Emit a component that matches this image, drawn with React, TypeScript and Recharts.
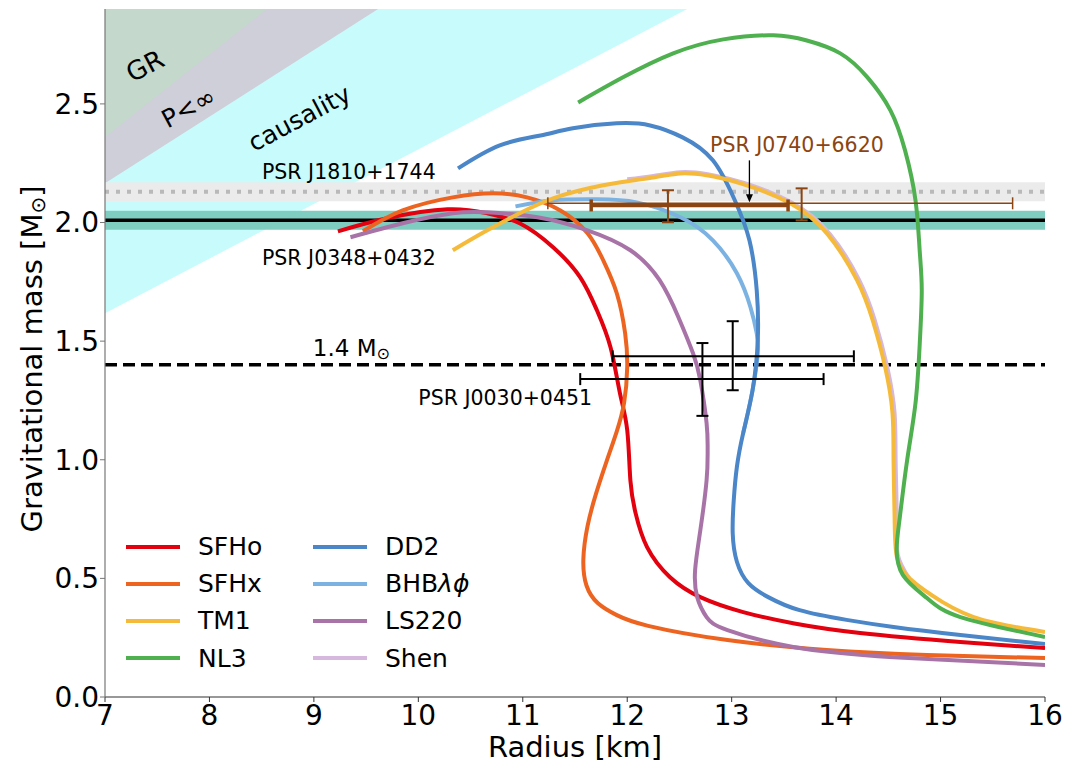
import React from "react";
import {
  ComposedChart,
  Line,
  Area,
  Scatter,
  ErrorBar,
  XAxis,
  YAxis,
  ReferenceDot,
  ReferenceLine,
  Legend,
} from "recharts";

type Pt = [number, number];

const FONT = "'DejaVu Sans', sans-serif";
const R_TICKS = [7, 8, 9, 10, 11, 12, 13, 14, 15, 16];
const M_TICKS = [0, 0.5, 1, 1.5, 2, 2.5];
const R_MIN = 7;
const R_MAX = 16;
const M_MAX = 2.9;

// mass-radius curves, [radius km, mass Msun]
const SFHO: Pt[] = [
  [9.23, 1.963], [9.7, 2.018], [10.28, 2.056], [10.66, 2.039], [10.97, 1.997],
  [11.29, 1.896], [11.55, 1.769], [11.71, 1.63], [11.84, 1.474], [11.93, 1.281],
  [12.0, 1.125], [12.03, 0.914], [12.08, 0.775], [12.19, 0.632], [12.41, 0.505],
  [12.7, 0.421], [13.11, 0.358], [13.6, 0.31], [14.23, 0.27], [15.19, 0.232], [16.0, 0.206],
];
const SFHX: Pt[] = [
  [9.47, 1.963], [9.85, 2.051], [10.33, 2.106], [10.72, 2.123], [11.04, 2.106],
  [11.36, 2.051], [11.62, 1.955], [11.77, 1.841], [11.9, 1.702], [11.98, 1.533],
  [12.0, 1.39], [11.97, 1.24], [11.9, 1.12], [11.8, 0.99], [11.7, 0.855],
  [11.62, 0.72], [11.58, 0.58], [11.61, 0.47], [11.72, 0.395], [11.9, 0.345],
  [12.2, 0.3], [12.96, 0.24], [13.91, 0.198], [14.87, 0.177], [16.0, 0.164],
];
const TM1: Pt[] = [
  [10.33, 1.883], [10.66, 1.967], [10.97, 2.039], [11.29, 2.102], [11.77, 2.157],
  [12.25, 2.19], [12.51, 2.207], [12.76, 2.199], [13.1, 2.163], [13.56, 2.081],
  [13.92, 1.95], [14.2, 1.757], [14.35, 1.588], [14.47, 1.39], [14.54, 1.196],
  [14.55, 0.998], [14.56, 0.758], [14.58, 0.594], [14.71, 0.497], [15.02, 0.4],
  [15.41, 0.324], [16.0, 0.274],
];
const NL3: Pt[] = [
  [11.53, 2.506], [11.96, 2.612], [12.44, 2.713], [12.92, 2.772], [13.4, 2.789],
  [13.72, 2.767], [14.04, 2.713], [14.3, 2.612], [14.52, 2.473], [14.66, 2.304],
  [14.76, 2.094], [14.8, 1.883], [14.82, 1.714], [14.8, 1.483], [14.76, 1.238],
  [14.68, 0.998], [14.61, 0.758], [14.58, 0.628], [14.64, 0.514], [14.87, 0.417],
  [15.19, 0.337], [16.0, 0.253],
];
const DD2: Pt[] = [
  [10.38, 2.228], [10.78, 2.325], [11.17, 2.367], [11.48, 2.397], [11.9, 2.418],
  [12.22, 2.409], [12.53, 2.359], [12.82, 2.262], [13.03, 2.094], [13.17, 1.925],
  [13.24, 1.714], [13.25, 1.504], [13.2, 1.293], [13.11, 1.112], [13.05, 0.97],
  [13.02, 0.83], [13.01, 0.69], [13.05, 0.57], [13.16, 0.48], [13.35, 0.421],
  [13.65, 0.366], [14.1, 0.325], [14.55, 0.295], [15.19, 0.261], [16.0, 0.223],
];
const BHB: Pt[] = [
  [10.93, 2.068], [11.29, 2.094], [11.71, 2.098], [12.09, 2.085], [12.51, 2.022],
  [12.82, 1.925], [13.05, 1.786], [13.18, 1.643], [13.24, 1.533], [13.25, 1.45],
  [13.2, 1.293], [13.11, 1.112],
];
const LS220: Pt[] = [
  [9.35, 1.938], [9.85, 1.997], [10.33, 2.039], [10.66, 2.043], [11.14, 2.022],
  [11.62, 1.967], [12.03, 1.883], [12.31, 1.757], [12.49, 1.601], [12.63, 1.449],
  [12.7, 1.335], [12.76, 1.154], [12.77, 1.04], [12.76, 0.914], [12.7, 0.703],
  [12.65, 0.535], [12.67, 0.421], [12.76, 0.337], [12.96, 0.282], [13.59, 0.211],
  [14.55, 0.168], [16.0, 0.135],
];
const SHEN: Pt[] = [
  [12.0, 2.182], [12.25, 2.196], [12.51, 2.212], [12.77, 2.204], [13.11, 2.168],
  [13.57, 2.085], [13.94, 1.952], [14.22, 1.758], [14.37, 1.589], [14.49, 1.39],
  [14.56, 1.196], [14.57, 0.998], [14.58, 0.758], [14.59, 0.6], [14.7, 0.5],
];

const CURVES: Record<string, Pt[]> = {
  SFHo: SFHO,
  SFHx: SFHX,
  TM1: TM1,
  NL3: NL3,
  DD2: DD2,
  "BHBλϕ": BHB,
  LS220: LS220,
  Shen: SHEN,
};

const COLORS: Record<string, string> = {
  SFHo: "#e3000f",
  SFHx: "#ec6420",
  TM1: "#f6ba3a",
  NL3: "#4fb050",
  DD2: "#4a86c8",
  "BHBλϕ": "#7cb2e2",
  LS220: "#a874a8",
  Shen: "#d6b8de",
};

// drawn back to front
const DRAW_ORDER = ["Shen", "SFHo", "SFHx", "LS220", "BHBλϕ", "DD2", "TM1", "NL3"];
const LEGEND_COLS = [
  ["SFHo", "SFHx", "TM1", "NL3"],
  ["DD2", "BHBλϕ", "LS220", "Shen"],
];

// forbidden regions: lower edge of each (region lies above it)
const CAUSAL_EDGE: Pt[] = [[7, 1.618], [12.575, 2.9]];
const PINF_EDGE: Pt[] = [[7, 2.165], [9.615, 2.9]];
const GR_EDGE: Pt[] = [[7, 2.36], [8.55, 2.9]];

// measured masses [center, low, high]
const J1810: number[] = [2.13, 2.09, 2.17];
const J0348: number[] = [2.01, 1.97, 2.05];
const CANONICAL = 1.4;

// NICER radii, error offsets as [minus, plus]
const J0030 = [
  { r: 12.72, m: 1.34, ex: [1.17, 1.16], ey: [0.155, 0.152] },
  { r: 13.01, m: 1.436, ex: [1.15, 1.16], ey: [0.143, 0.148] },
];
const J0740_RILEY = [{ r: 12.39, m: 2.072, ex: [0.735, 1.15], ey: [0.071, 0.064] }];
const J0740_MILLER = [{ r: 13.67, m: 2.081, ex: [2.43, 2.02], ey: [0.072, 0.063] }];

const toRows = (pts: Pt[]) => pts.map(([r, m]) => ({ r, m }));
const edgeRows = (pts: Pt[]) => pts.map(([r, m]) => ({ r, band: [m, M_MAX] }));
const flatBand = (lo: number, hi: number) => [
  { r: R_MIN, band: [lo, hi] },
  { r: R_MAX, band: [lo, hi] },
];
const flatLine = (m: number) => [{ r: R_MIN, m }, { r: R_MAX, m }];

const noShape = () => <g />;

function note(
  text: React.ReactNode,
  opts: { size: number; anchor?: string; color?: string; angle?: number }
) {
  return (p: any) => (
    <text
      x={p.cx}
      y={p.cy}
      fontSize={opts.size}
      fill={opts.color || "#000"}
      textAnchor={opts.anchor || "start"}
      dominantBaseline="central"
      fontFamily={FONT}
      transform={opts.angle ? `rotate(${opts.angle} ${p.cx} ${p.cy})` : undefined}
    >
      {text}
    </text>
  );
}

const arrowHead = (p: any) => (
  <path
    d={`M${p.cx - 3.5},${p.cy - 8} L${p.cx + 3.5},${p.cy - 8} L${p.cx},${p.cy} Z`}
    fill="#000"
  />
);

const xLabel = (p: any) => {
  const vb = p.viewBox;
  return (
    <text x={vb.x + vb.width / 2} y={vb.y + 60} textAnchor="middle" fontSize={29} fill="#000">
      Radius [km]
    </text>
  );
};

const yLabel = (p: any) => {
  const vb = p.viewBox;
  const x = vb.x + 32;
  const y = vb.y + vb.height / 2 + 6;
  return (
    <text
      x={x}
      y={y}
      transform={`rotate(-90 ${x} ${y})`}
      textAnchor="middle"
      dominantBaseline="central"
      fontSize={29}
      fill="#000"
    >
      Gravitational mass [M
      <tspan fontSize={20} dy={6}>⊙</tspan>
      <tspan dy={-6}>]</tspan>
    </text>
  );
};

function legendText(name: string) {
  if (name === "BHBλϕ") {
    return (
      <>
        BHB<span style={{ fontStyle: "italic" }}>λϕ</span>
      </>
    );
  }
  return name;
}

function CurveLegend() {
  return (
    <div style={{ position: "relative", width: 340, height: 150, fontSize: 25, fontFamily: FONT, color: "#000" }}>
      {LEGEND_COLS.map((col, ci) =>
        col.map((name, ri) => (
          <div
            key={name}
            style={{
              position: "absolute",
              left: ci * 187,
              top: ri * 37.2,
              height: 37,
              display: "flex",
              alignItems: "center",
              whiteSpace: "nowrap",
            }}
          >
            <span
              style={{
                display: "inline-block",
                width: 54,
                height: 4,
                background: COLORS[name],
                marginRight: 18,
              }}
            />
            <span>{legendText(name)}</span>
          </div>
        ))
      )}
    </div>
  );
}

export default function App() {
  const axisStroke = "#333";
  return (
    <div style={{ position: "absolute", left: 0, top: 0, width: 1069, height: 765, background: "#fff", fontFamily: FONT }}>
      <ComposedChart width={1069} height={765} margin={{ top: 9, right: 24, bottom: 28, left: 0 }}>
        <XAxis
          dataKey="r"
          type="number"
          domain={[R_MIN, R_MAX]}
          ticks={R_TICKS}
          allowDataOverflow
          height={40}
          tick={{ fontSize: 28, fill: "#000" }}
          tickMargin={3}
          tickSize={5}
          tickLine={{ stroke: axisStroke }}
          axisLine={{ stroke: axisStroke, strokeWidth: 1.2 }}
          label={{ content: xLabel }}
        />
        <XAxis
          xAxisId="top"
          orientation="top"
          type="number"
          domain={[R_MIN, R_MAX]}
          ticks={R_TICKS}
          allowDataOverflow
          height={0}
          tickFormatter={() => ""}
          tickSize={5}
          tickLine={{ stroke: "#777" }}
          axisLine={{ stroke: "#777", strokeWidth: 1.2 }}
        />
        <YAxis
          type="number"
          domain={[0, M_MAX]}
          ticks={M_TICKS}
          allowDataOverflow
          width={105}
          tick={{ fontSize: 28, fill: "#000" }}
          tickFormatter={(v: number) => v.toFixed(1)}
          tickMargin={1}
          tickSize={5}
          tickLine={{ stroke: "#777" }}
          axisLine={{ stroke: "#777", strokeWidth: 1.2 }}
          label={{ content: yLabel }}
        />
        <YAxis
          yAxisId="right"
          orientation="right"
          type="number"
          domain={[0, M_MAX]}
          width={0}
          tick={false}
          tickLine={false}
          axisLine={{ stroke: axisStroke, strokeWidth: 1.2 }}
        />

        {/* excluded regions */}
        <Area data={edgeRows(CAUSAL_EDGE)} dataKey="band" type="linear" fill="#c8fcfc" fillOpacity={1} stroke="none" isAnimationActive={false} legendType="none" />
        <Area data={edgeRows(PINF_EDGE)} dataKey="band" type="linear" fill="#cecfd9" fillOpacity={1} stroke="none" isAnimationActive={false} legendType="none" />
        <Area data={edgeRows(GR_EDGE)} dataKey="band" type="linear" fill="#c4d9cb" fillOpacity={1} stroke="none" isAnimationActive={false} legendType="none" />

        {/* pulsar mass bands */}
        <Area data={flatBand(J1810[1], J1810[2])} dataKey="band" type="linear" fill="#ebebeb" fillOpacity={1} stroke="none" isAnimationActive={false} legendType="none" />
        <Area data={flatBand(J0348[1], J0348[2])} dataKey="band" type="linear" fill="#7ecdc0" fillOpacity={1} stroke="none" isAnimationActive={false} legendType="none" />

        <Line data={flatLine(J1810[0])} dataKey="m" type="linear" stroke="#b9b9b9" strokeWidth={4} strokeDasharray="4 7" dot={false} activeDot={false} isAnimationActive={false} legendType="none" />
        <Line data={flatLine(J0348[0])} dataKey="m" type="linear" stroke="#000" strokeWidth={3.5} dot={false} activeDot={false} isAnimationActive={false} legendType="none" />
        <Line data={flatLine(CANONICAL)} dataKey="m" type="linear" stroke="#000" strokeWidth={3.5} strokeDasharray="12 6" dot={false} activeDot={false} isAnimationActive={false} legendType="none" />

        {DRAW_ORDER.map((name) => (
          <Line
            key={name}
            name={name}
            data={toRows(CURVES[name])}
            dataKey="m"
            type="natural"
            stroke={COLORS[name]}
            strokeWidth={4}
            dot={false}
            activeDot={false}
            isAnimationActive={false}
          />
        ))}

        <Scatter data={J0740_MILLER} dataKey="m" shape={noShape} isAnimationActive={false} legendType="none">
          <ErrorBar dataKey="ex" direction="x" width={6} stroke="#8b4513" strokeWidth={1.5} isAnimationActive={false} />
          <ErrorBar dataKey="ey" direction="y" width={6} stroke="#8b4513" strokeWidth={2} isAnimationActive={false} />
        </Scatter>
        <Scatter data={J0740_RILEY} dataKey="m" shape={noShape} isAnimationActive={false} legendType="none">
          <ErrorBar dataKey="ex" direction="x" width={6} stroke="#8b4513" strokeWidth={3.5} isAnimationActive={false} />
          <ErrorBar dataKey="ey" direction="y" width={6} stroke="#8b4513" strokeWidth={2} isAnimationActive={false} />
        </Scatter>
        <Scatter data={J0030} dataKey="m" shape={noShape} isAnimationActive={false} legendType="none">
          <ErrorBar dataKey="ex" direction="x" width={6} stroke="#000" strokeWidth={2} isAnimationActive={false} />
          <ErrorBar dataKey="ey" direction="y" width={6} stroke="#000" strokeWidth={2} isAnimationActive={false} />
        </Scatter>

        <ReferenceLine segment={[{ x: 13.17, y: 2.262 }, { x: 13.17, y: 2.1 }]} stroke="#000" strokeWidth={1.3} />
        <ReferenceDot x={13.17} y={2.085} r={1} shape={arrowHead} />

        <ReferenceDot x={7.383} y={2.66} r={1} shape={note("GR", { size: 26, anchor: "middle", angle: -28 })} />
        <ReferenceDot x={7.8} y={2.483} r={1} shape={note("P<∞", { size: 25, anchor: "middle", angle: -28 })} />
        <ReferenceDot x={8.862} y={2.439} r={1} shape={note("causality", { size: 25, anchor: "middle", angle: -28 })} />
        <ReferenceDot x={8.503} y={2.211} r={1} shape={note("PSR J1810+1744", { size: 20.5 })} />
        <ReferenceDot x={8.503} y={1.849} r={1} shape={note("PSR J0348+0432", { size: 20.5 })} />
        <ReferenceDot x={12.793} y={2.325} r={1} shape={note("PSR J0740+6620", { size: 20.5, color: "#8b4513" })} />
        <ReferenceDot x={10.0} y={1.259} r={1} shape={note("PSR J0030+0451", { size: 20.5 })} />
        <ReferenceDot
          x={8.99}
          y={1.47}
          r={1}
          shape={note(
            <>
              1.4 M<tspan fontSize={16} dy={5}>⊙</tspan>
            </>,
            { size: 23 }
          )}
        />

        <Legend
          layout="horizontal"
          verticalAlign="middle"
          align="center"
          wrapperStyle={{ left: 126, top: 528, width: 340, height: 150 }}
          content={() => <CurveLegend />}
        />
      </ComposedChart>
    </div>
  );
}
